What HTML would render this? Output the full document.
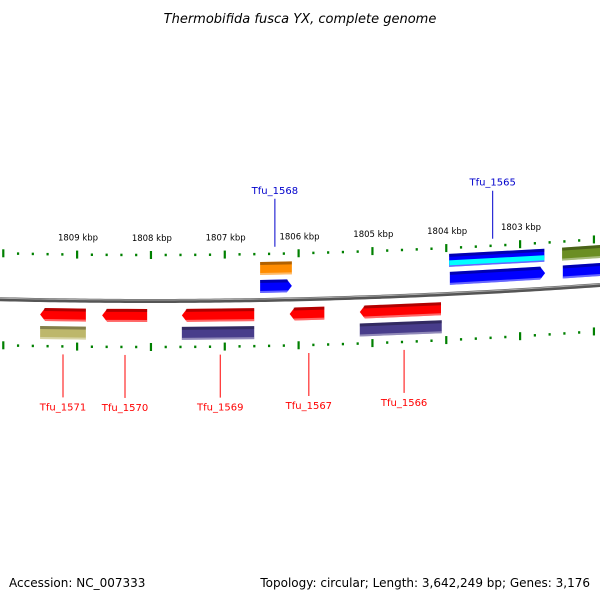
<!DOCTYPE html>
<html><head><meta charset="utf-8"><style>
html,body{margin:0;padding:0;background:#fff;}
svg{display:block;font-family:"DejaVu Sans","Liberation Sans",sans-serif;}
</style></head><body>
<svg id="map" width="600" height="600" viewBox="0 0 600 600">
<text x="300" y="23" text-anchor="middle" font-size="13" font-style="italic" fill="#000">Thermobifida fusca YX, complete genome</text>
<text x="9" y="587" font-size="12" fill="#000">Accession: NC_007333</text>
<text x="590" y="587" text-anchor="end" font-size="12" fill="#000">Topology: circular; Length: 3,642,249 bp; Genes: 3,176</text>
<g id="layer"></g>
</svg>
<script>
// kbp tick labels
const tickKbp = [1810, 1809, 1808, 1807, 1806, 1805, 1804, 1803, 1802];
// genes: start/end in kbp, track offset, colour, direction
const geneNames = ["orange-1568", "Tfu_1568", "cds-1565", "Tfu_1565", "olive-right", "blue-right", "Tfu_1571", "Tfu_1570", "Tfu_1569", "Tfu_1567", "Tfu_1566", "khaki-1571", "purple-1569", "purple-1566"];
const geneStart = [1806.52, 1806.52, 1803.96, 1803.95, 1802.43, 1802.42, 1809.50, 1808.66, 1807.58, 1806.12, 1805.17, 1809.50, 1807.58, 1805.17];
const geneEnd   = [1806.09, 1806.09, 1802.67, 1802.66, 1801.90, 1801.90, 1808.88, 1808.05, 1806.60, 1805.65, 1804.07, 1808.88, 1806.60, 1804.06];
const geneTrack = [-38, -20, -40, -22, -40, -22, 8, 8, 8, 8, 8, 26, 26, 26];
const geneColor = ["#ff8c00", "#0000ff", "#0000ff", "#0000ff", "#6b8e23", "#0000ff", "#ff0000", "#ff0000", "#ff0000", "#ff0000", "#ff0000", "#bdb76b", "#483d8b", "#483d8b"];
const geneArrow = [0, 1, 0, 1, 0, 0, -1, -1, -1, -1, -1, 0, 0, 0];
// labels
const labelNames = ["Tfu_1568", "Tfu_1565", "Tfu_1571", "Tfu_1570", "Tfu_1569", "Tfu_1567", "Tfu_1566"];
const labelKbp = [1806.32, 1803.37, 1809.19, 1808.35, 1807.06, 1805.86, 1804.57];
const labelColor = ["#0000cc", "#0000cc", "#ff0000", "#ff0000", "#ff0000", "#ff0000", "#ff0000"];
const labelUp = [1, 1, 0, 0, 0, 0, 0];

const NS = "http://www.w3.org/2000/svg";
const layer = document.getElementById("layer");
function xs(k) { return 520 - (k - 1803) * 73.83; }
function cy(x) { return 301 - 7.9e-5 * (x - 150) * (x - 150); }
function mk(tag, attrs) { const e = document.createElementNS(NS, tag); for (const a in attrs) e.setAttribute(a, attrs[a]); layer.appendChild(e); return e; }

// backbone
let d = "";
for (let x = 0; x <= 600; x += 5) d += (x ? "L" : "M") + x + " " + cy(x).toFixed(2);
let bb = mk("path", { d: d, stroke: "#555", "stroke-width": 4, fill: "none" });


let bb2 = mk("path", { d: d, stroke: "#aaa", "stroke-width": 1, fill: "none", transform: "translate(0,-1)" });



// ticks
for (let i = 0; i < tickKbp.length; i++) {
  for (let j = 0; j < 5; j++) {
    const k = tickKbp[i] - j * 0.2;
    const x = xs(k);
    if (x < -2 || x > 602) continue;
    [-46, 46].forEach(off => {
      const y = cy(x) + off;
      const h = j === 0 ? 8 : 2.5;
      const t = mk("rect", { x: x - 1, y: y - h / 2, width: 2.2, height: h, fill: "#008000" });
      
      
    });
  }
  const x = xs(tickKbp[i]);
  if (x > 560 || x < 20) continue;
  const lb = mk("text", { x: x + 1, y: cy(x) - 60, "text-anchor": "middle", "font-size": 8.5, fill: "#000" });
  lb.textContent = tickKbp[i] + " kbp";
  
  
}

// genes
for (let i = 0; i < geneNames.length; i++) {
  const x1 = xs(geneStart[i]), x2 = xs(geneEnd[i]);
  const a = Math.min(x1, x2), b = Math.max(x1, x2);
  const off = geneTrack[i], h = 13;
  const ya = cy(a) + off, yb = cy(b) + off;
  let pts;
  if (geneArrow[i] === 1) {
    pts = [[a, ya], [b - 5, yb], [b, yb + h / 2], [b - 5, yb + h], [a, ya + h]];
  } else if (geneArrow[i] === -1) {
    pts = [[a + 5, ya], [b, yb], [b, yb + h], [a + 5, ya + h], [a, ya + h / 2]];
  } else {
    pts = [[a, ya], [b, yb], [b, yb + h], [a, ya + h]];
  }
  const g = mk("polygon", { points: pts.map(p => p.join(",")).join(" "), fill: geneColor[i] });
  
  
  const top = mk("path", { d: `M${a + (geneArrow[i] === -1 ? 4 : 0)} ${ya + 1.5}L${b - (geneArrow[i] === 1 ? 4 : 0)} ${yb + 1.5}`, stroke: "rgba(0,0,0,0.3)", "stroke-width": 3 });
  
  
  const bot = mk("path", { d: `M${a + (geneArrow[i] === -1 ? 4 : 0)} ${ya + h - 1}L${b - (geneArrow[i] === 1 ? 4 : 0)} ${yb + h - 1}`, stroke: "rgba(255,255,255,0.4)", "stroke-width": 2 });
  
  
  if (geneNames[i] === "cds-1565") {
    const c = mk("path", { d: `M${a} ${ya + 9}L${b} ${yb + 9}`, stroke: "#00ffff", "stroke-width": 5 });
    
    
  }
}

// labels
for (let i = 0; i < labelNames.length; i++) {
  const x = xs(labelKbp[i]);
  let y1, y2, ty;
  if (labelUp[i]) { y1 = cy(x) - 53; y2 = cy(x) - 101; ty = y2 - 5; }
  else { y1 = cy(x) + 54; y2 = cy(x) + 97; ty = y2 + 13; }
  const ln = mk("line", { x1: x, y1: y1, x2: x, y2: y2, stroke: labelColor[i], "stroke-width": 1 });
  
  
  const t = mk("text", { x: x, y: ty, "text-anchor": "middle", "font-size": 10, fill: labelColor[i] });
  t.textContent = labelNames[i];
  
  
}
</script>
</body></html>
